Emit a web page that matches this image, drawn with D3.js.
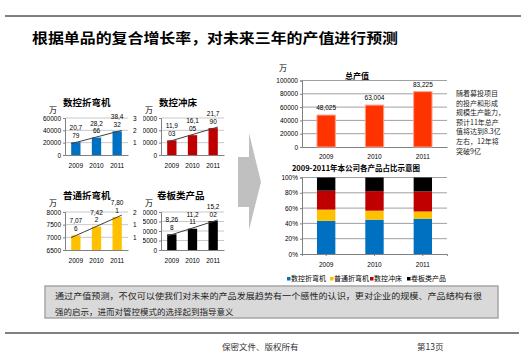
<!DOCTYPE html>
<html><head><meta charset="utf-8">
<script src="https://cdn.jsdelivr.net/npm/d3@7"></script>
<style>
body{margin:0;background:#fff;}
svg{display:block;font-family:"Noto Sans CJK SC","Liberation Sans",sans-serif;}
</style></head><body>
<svg id="c" width="527" height="356"></svg>
<script>
// ---------------- data ----------------
const years = ["2009","2010","2011"];
const productNames = ["数控折弯机","普通折弯机","数控冲床","卷板类产品"];
const cncBrake = [20779, 28266, 38432];
const normalBrake = [7076, 7422, 7801];
const cncPunch = [11903, 16105, 21790];
const rollProducts = [8268, 11211, 15202];
const totalOutput = [48025, 63004, 83225];
const cncBrakeTicks = [0, 20000, 40000, 60000];
const cncPunchTicks = [0, 10000, 20000, 30000];
const normalBrakeTicks = [6500, 7000, 7500, 8000];
const rollTicks = [0, 5000, 10000, 15000, 20000];
const totalTicks = [0, 20000, 40000, 60000, 80000, 100000];
const shareTicks = [0, 0.2, 0.4, 0.6, 0.8, 1];
const productColors = ["#0070c0", "#ffc000", "#c00000", "#000000"];
const totalColor = "#ff3300";
const titleText = "根据单品的复合增长率，对未来三年的产值进行预测";
const noteLines = ["随着募投项目","的投产和形成","规模生产能力，","预计11年总产","值将达到8.3亿","左右，12年将","突破9亿"];
const summaryLines = ["通过产值预测，不仅可以使我们对未来的产品发展趋势有一个感性的认识，更对企业的规模、产品结构有很","强的启示，进而对管控模式的选择起到指导意义"];
const footerLeft = "保密文件、版权所有";
const footerRight = "第13页";
const totalTitle = "总产值";
const shareTitle = "2009-2011年本公司各产品占比示意图";
const unit = "万";

// ---------------- drawing ----------------
const svg = d3.select("#c");
const FONT = '"Noto Sans CJK SC","Liberation Sans",sans-serif';
const NUMF = '"Liberation Sans","DejaVu Sans",sans-serif';

svg.append("line").attr("x1",5).attr("x2",521).attr("y1",16).attr("y2",16)
  .attr("stroke","#000").attr("stroke-width",1);
svg.append("text").attr("x",32).attr("y",43).attr("font-size",14).attr("font-weight","bold")
  .attr("font-family",FONT).attr("textLength",366).attr("lengthAdjust","spacingAndGlyphs").text(titleText);

function styleAxis(ax, size){
  ax.attr("font-family",NUMF).attr("font-size",size);
  ax.select(".domain").attr("stroke","#808080");
  ax.selectAll(".tick line").attr("stroke","#808080");
  ax.selectAll("text").attr("fill","#000");
}

function smallChart(o){
  const g = svg.append("g");
  if(o.clip){
    const id = "clip"+o.id;
    svg.append("clipPath").attr("id",id).append("rect")
      .attr("x",o.clip[0]).attr("y",o.clip[1]).attr("width",o.clip[2]).attr("height",o.clip[3]);
    g.attr("clip-path",`url(#${id})`);
  }
  const x = d3.scaleBand().domain(years).range([o.x0,o.x1]).paddingInner(0.55).paddingOuter(0.3);
  const y = d3.scaleLinear().domain(d3.extent(o.ticks)).range([o.yBot,o.yTop]);
  g.append("g").selectAll("line").data(o.ticks.slice(1)).join("line")
    .attr("x1",o.x0).attr("x2",o.x1).attr("y1",d=>y(d)).attr("y2",d=>y(d))
    .attr("stroke","#c8c8c8");
  const ya = g.append("g").attr("transform",`translate(${o.x0},0)`)
    .call(d3.axisLeft(y).tickValues(o.ticks).tickSize(2).tickPadding(2).tickFormat(d3.format("d")));
  styleAxis(ya,6.5);
  const xa = g.append("g").attr("transform",`translate(0,${o.yBot})`)
    .call(d3.axisBottom(x).tickSize(0).tickPadding(8));
  styleAxis(xa,6.5);
  g.selectAll("rect.bar").data(o.values).join("rect").attr("class","bar")
    .attr("x",(d,i)=>x(years[i])).attr("width",x.bandwidth())
    .attr("y",d=>y(d)).attr("height",d=>o.yBot-y(d)).attr("fill",o.color);
  // linear trend line
  const n = o.values.length, mi = (n-1)/2, mv = d3.mean(o.values);
  const slope = d3.sum(o.values,(v,i)=>(i-mi)*(v-mv))/d3.sum(o.values,(v,i)=>(i-mi)*(i-mi));
  const step = x.step(), c0 = x(years[0])+x.bandwidth()/2;
  const xs = [x(years[0]), x(years[n-1])+x.bandwidth()];
  g.append("line")
    .attr("x1",xs[0]).attr("x2",xs[1])
    .attr("y1",y(mv+slope*((xs[0]-c0)/step-mi))).attr("y2",y(mv+slope*((xs[1]-c0)/step-mi)))
    .attr("stroke","#404040").attr("stroke-width",1);
  // value labels (wrapped)
  const fmt = d3.format(",");
  const lab = g.selectAll("text.val").data(o.values).join("text").attr("class","val")
    .attr("font-family",NUMF).attr("font-size",6.5).attr("text-anchor","middle")
    .attr("x",(d,i)=>x(years[i])+x.bandwidth()/2).attr("y",d=>y(d)-12);
  lab.append("tspan").text(d=>fmt(d).slice(0,4));
  lab.append("tspan").attr("x",(d,i)=>x(years[i])+x.bandwidth()/2).attr("dy",7.5).text(d=>fmt(d).slice(4));
  // title & unit
  g.append("text").attr("x",o.titleX).attr("y",o.titleY).attr("font-size",9.5).attr("font-weight","bold")
    .attr("font-family",FONT).text(o.title);
  g.append("text").attr("x",o.unitX).attr("y",o.titleY+7).attr("font-size",8)
    .attr("font-family",FONT).text(unit);
  if(o.rightLabels){
    g.selectAll("text.rl").data(o.rightLabels).join("text").attr("class","rl")
      .attr("x",o.x1+5).attr("y",d=>y(d[0])+2.5).attr("font-size",6.5).attr("font-family",NUMF).text(d=>d[1]);
  }
}

smallChart({id:1,title:productNames[0],values:cncBrake,ticks:cncBrakeTicks,color:productColors[0],
  x0:65,x1:128,yTop:118,yBot:155,titleX:63,titleY:106,unitX:49,clip:[30,90,110,90],
  rightLabels:[[60000,"3"],[40000,"2"],[20000,"1"]]});
smallChart({id:2,title:productNames[2],values:cncPunch,ticks:cncPunchTicks,color:productColors[2],
  x0:161,x1:224,yTop:118,yBot:155,titleX:159,titleY:106,unitX:145,clip:[143,90,93,90]});
smallChart({id:3,title:productNames[1],values:normalBrake,ticks:normalBrakeTicks,color:productColors[1],
  x0:65,x1:128,yTop:212,yBot:250,titleX:63,titleY:199,unitX:49,clip:[30,185,110,90],
  rightLabels:[[8000,"2"],[7500,"1"],[7000,"1"]]});
smallChart({id:4,title:productNames[3],values:rollProducts,ticks:rollTicks,color:productColors[3],
  x0:161,x1:224,yTop:212,yBot:250,titleX:157,titleY:199,unitX:145,clip:[143,185,93,90]});

// arrow
svg.append("polygon")
  .attr("points","238,157 249,157 249,133 261,182 249,230 249,207 238,207")
  .attr("fill","#c0c0c0");

// ---- total output chart ----
const tx = d3.scaleBand().domain(years).range([302,447]).paddingInner(0.62).paddingOuter(0.31);
const ty = d3.scaleLinear().domain([0,100000]).range([147,80.5]);
const tg = svg.append("g");
tg.append("g").selectAll("line").data(totalTicks.slice(1)).join("line")
  .attr("x1",302).attr("x2",447).attr("y1",d=>ty(d)).attr("y2",d=>ty(d)).attr("stroke","#a0a0a0");
const tya = tg.append("g").attr("transform","translate(302,0)")
  .call(d3.axisLeft(ty).tickValues(totalTicks).tickSize(2).tickPadding(2).tickFormat(d3.format("d")));
styleAxis(tya,6.5);
const txa = tg.append("g").attr("transform","translate(0,147)")
  .call(d3.axisBottom(tx).tickSize(0).tickPadding(7));
styleAxis(txa,6.5);
tg.selectAll("rect.tb").data(totalOutput).join("rect").attr("class","tb")
  .attr("x",(d,i)=>tx(years[i])).attr("width",tx.bandwidth())
  .attr("y",d=>ty(d)).attr("height",d=>147-ty(d))
  .attr("fill",totalColor).attr("stroke","#ffa08a").attr("stroke-width",1);
tg.selectAll("text.tv").data(totalOutput).join("text").attr("class","tv")
  .attr("x",(d,i)=>tx(years[i])+tx.bandwidth()/2).attr("y",d=>ty(d)-5)
  .attr("text-anchor","middle").attr("font-size",6.5).attr("font-family",NUMF).text(d=>d3.format(",")(d));
tg.append("text").attr("x",357).attr("y",79).attr("text-anchor","middle").attr("font-size",8)
  .attr("font-weight","bold").attr("font-family",FONT).text(totalTitle);
tg.append("text").attr("x",279).attr("y",71).attr("font-size",8).attr("font-family",FONT).text(unit);

// note text
svg.append("g").selectAll("text").data(noteLines).join("text")
  .attr("x",456).attr("y",(d,i)=>96+i*9.6).attr("font-size",7).attr("font-family",FONT)
  .attr("fill","#222").text(d=>d);

// ---- share stacked chart ----
const shareRows = years.map((yr,i)=>({year:yr, 0:cncBrake[i], 1:normalBrake[i], 2:cncPunch[i], 3:rollProducts[i]}));
const stacked = d3.stack().keys([0,1,2,3]).offset(d3.stackOffsetExpand)(shareRows);
const sy = d3.scaleLinear().domain([0,1]).range([254,177.5]);
const sg = svg.append("g");
sg.append("g").selectAll("line").data(shareTicks.slice(1)).join("line")
  .attr("x1",302).attr("x2",447).attr("y1",d=>sy(d)).attr("y2",d=>sy(d)).attr("stroke","#a0a0a0");
const sya = sg.append("g").attr("transform","translate(302,0)")
  .call(d3.axisLeft(sy).tickValues(shareTicks).tickSize(2).tickPadding(2).tickFormat(d3.format(".0%")));
styleAxis(sya,6.5);
const sxa = sg.append("g").attr("transform","translate(0,254)")
  .call(d3.axisBottom(tx).tickSize(2).tickPadding(6));
styleAxis(sxa,6.5);
sg.selectAll("g.layer").data(stacked).join("g").attr("class","layer")
  .attr("fill",(d,i)=>productColors[i])
  .selectAll("rect").data(d=>d).join("rect")
  .attr("x",d=>tx(d.data.year)).attr("width",tx.bandwidth())
  .attr("y",d=>sy(d[1])).attr("height",d=>sy(d[0])-sy(d[1]));
sg.append("text").attr("x",356).attr("y",171).attr("text-anchor","middle").attr("font-size",7.5)
  .attr("font-weight","bold").attr("font-family",FONT).text(shareTitle);

// legend
const legX = [287,330,370,407];
const lg = svg.append("g").selectAll("g").data(productNames).join("g")
  .attr("transform",(d,i)=>`translate(${legX[i]},281)`);
lg.append("rect").attr("x",0).attr("y",-4).attr("width",3.5).attr("height",3.5).attr("fill",(d,i)=>productColors[i]);
lg.append("text").attr("x",4).attr("y",0).attr("font-size",7).attr("font-family",FONT).text(d=>d);

// summary box
svg.append("rect").attr("x",45).attr("y",286).attr("width",453).attr("height",32)
  .attr("fill","#d9d9d9").attr("stroke","#a6a6a6").attr("stroke-width",1.5);
svg.append("g").selectAll("text").data(summaryLines).join("text")
  .attr("x",55).attr("y",(d,i)=>299+i*16).attr("font-size",8.5).attr("font-family",FONT)
  .attr("fill","#222")
  .each(function(d,i){ if(i===0) d3.select(this).attr("textLength",427).attr("lengthAdjust","spacingAndGlyphs"); })
  .text(d=>d);

// footer
svg.append("line").attr("x1",5).attr("x2",519).attr("y1",333).attr("y2",333)
  .attr("stroke","#808080").attr("stroke-width",2);
svg.append("text").attr("x",222).attr("y",350).attr("font-size",8.5).attr("font-family",FONT)
  .attr("fill","#333").text(footerLeft);
svg.append("text").attr("x",417).attr("y",350).attr("font-size",8.5).attr("font-family",FONT)
  .attr("fill","#333").text(footerRight);
</script>
</body></html>
